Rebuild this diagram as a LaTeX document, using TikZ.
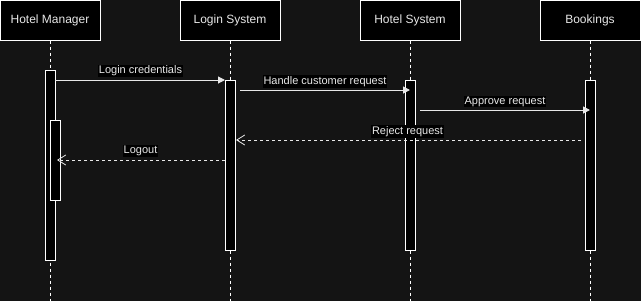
\documentclass[tikz,border=0pt]{standalone}
\usepackage{fontspec}
\setmainfont{Liberation Sans}
\usetikzlibrary{arrows.meta}
\definecolor{bg}{RGB}{20,20,20}
\definecolor{ink}{RGB}{232,232,232}
\begin{document}
\begin{tikzpicture}[x=1pt,y=-1pt,
  head/.style={draw=white, fill=black, line width=1pt, minimum width=100pt,
    minimum height=40pt, text=ink, font=\fontsize{12}{14}\selectfont, inner sep=0pt},
  bar/.style={draw=white, fill=black, line width=1pt, minimum width=10pt, inner sep=0pt},
  life/.style={white, line width=1pt, dash pattern=on 3pt off 3pt},
  msg/.style={ink, line width=1pt, -{Triangle[length=7pt,width=7pt]}},
  reply/.style={ink, line width=0.8pt, dash pattern=on 3pt off 3pt,
    -{Straight Barb[length=8pt,width=10pt,line width=0.8pt]}},
  lbl/.style={fill=black, text=ink, font=\fontsize{11}{13}\selectfont, inner sep=1pt}
]
% canvas
\fill[bg] (0,0) rectangle (641,301);
\useasboundingbox (0,0) rectangle (641,301);

% participants
\node[head] (hm) at (50,20)  {Hotel Manager};
\node[head] (ls) at (230,20) {Login System};
\node[head] (hs) at (410,20) {Hotel System};
\node[head] (bk) at (590,20) {Bookings};

% lifelines
\coordinate (hmEnd) at (50,301);
\coordinate (lsEnd) at (230,301);
\coordinate (hsEnd) at (410,301);
\coordinate (bkEnd) at (590,301);
\draw[life] (hm.south) -- (hmEnd);
\draw[life] (ls.south) -- (lsEnd);
\draw[life] (hs.south) -- (hsEnd);
\draw[life] (bk.south) -- (bkEnd);

% activation bars
\node[bar, minimum height=190pt] (hmBar) at (50,165) {};
\node[bar, minimum height=80pt]  (hmSub) at (55,160) {};
\node[bar, minimum height=170pt] (lsBar) at (230,165) {};
\node[bar, minimum height=170pt] (hsBar) at (410,165) {};
\node[bar, minimum height=170pt] (bkBar) at (590,165) {};

% message end points
\coordinate (m1a) at (55,80);
\coordinate (m1b) at (225,80);
\coordinate (m2a) at (240,90);
\coordinate (m2b) at (410,90);
\coordinate (m3a) at (420,110);
\coordinate (m3b) at (590,110);
\coordinate (m4a) at (581,140);
\coordinate (m4b) at (236,140);
\coordinate (m5a) at (225,160);
\coordinate (m5b) at (57,160);

% messages
\draw[msg] (m1a) -- (m1b);
\node[lbl] (l1) at (140.5,71) {Login credentials};
\draw[msg] (m2a) -- (m2b);
\node[lbl] (l2) at (325,81.5) {Handle customer request};
\draw[msg] (m3a) -- (m3b);
\node[lbl] (l3) at (505,101.5) {Approve request};
\draw[reply] (m4a) -- (m4b);
\node[lbl] (l4) at (407.5,131.5) {Reject request};
\draw[reply] (m5a) -- (m5b);
\node[lbl] (l5) at (140.5,151) {Logout};
\end{tikzpicture}
\end{document}
